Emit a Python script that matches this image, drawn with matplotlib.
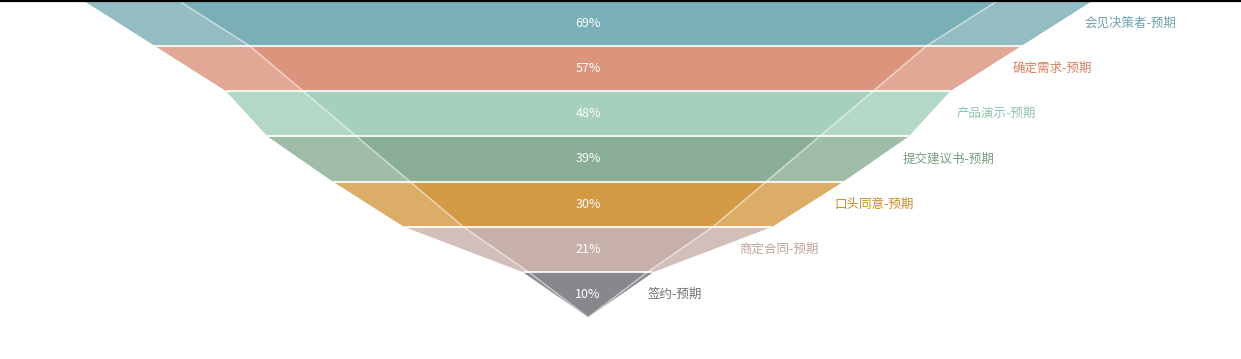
import matplotlib
matplotlib.use("Agg")
import matplotlib.pyplot as plt
from matplotlib.patches import Polygon
from matplotlib.lines import Line2D

plt.rcParams['font.family'] = ['Noto Sans CJK SC', 'DejaVu Sans']

# stage names, expected funnel (outer) and actual percentages (inner)
stages = ['会见决策者', '确定需求', '产品演示', '提交建议书', '口头同意', '商定合同', '签约']
expected = [85, 73, 61, 54, 43, 31, 11]
actual = [69, 57, 48, 39, 30, 21, 10]

outer_colors = ['#93bdc3', '#e1a995', '#b3d9c6', '#9ebca8', '#dbad67', '#d2bfba', '#88888c']
inner_colors = ['#7aafb8', '#db957c', '#a5d0bb', '#8aae95', '#d49944', '#c7b0aa', '#88888c']
label_colors = ['#6da2ab', '#d8805f', '#8cc5a8', '#769d80', '#ce8a26', '#bfa39c', '#6e6e6e']

fig = plt.figure(figsize=(12.41, 3.59), dpi=100)
ax = fig.add_axes([0, 0, 1, 1])
ax.set_xlim(-99.0, 109.9)
ax.set_ylim(7.92, -0.01)
ax.axis('off')

n = len(stages)


def bounds(vals, i):
    top = vals[i]
    bot = vals[i + 1] if i + 1 < n else 0
    return top, bot


# expected funnel
for i in range(n):
    t, b = bounds(expected, i)
    ax.add_patch(Polygon([(-t, i), (t, i), (b, i + 1), (-b, i + 1)],
                         closed=True, facecolor=outer_colors[i], edgecolor='none', zorder=1))

# actual funnel
for i in range(n):
    t, b = bounds(actual, i)
    ax.add_patch(Polygon([(-t, i), (t, i), (b, i + 1), (-b, i + 1)],
                         closed=True, facecolor=inner_colors[i], edgecolor='none', zorder=2))

# separators between rows
for i in range(1, n):
    w = expected[i]
    ax.plot([-w, w], [i, i], color='white', lw=1.5, alpha=0.85, zorder=3,
            solid_capstyle='butt')

# edges of the actual funnel
ys = list(range(n + 1))
xs = actual + [0]
ax.plot([-x for x in xs], ys, color='white', lw=1.1, alpha=0.55, zorder=4)
ax.plot(xs, ys, color='white', lw=1.1, alpha=0.55, zorder=4)

# labels
for i in range(n):
    ax.text(0, i + 0.5, f'{actual[i]}%', color='white', fontsize=9,
            ha='center', va='center', zorder=5)
    t, b = bounds(expected, i)
    ax.text((t + b) / 2 + 4.5, i + 0.5, f'{stages[i]}-预期', color=label_colors[i],
            fontsize=9, ha='left', va='center', zorder=5)

# black rule along the top edge
fig.add_artist(Line2D([0, 1], [0.997, 0.997], transform=fig.transFigure,
                      color='black', lw=1.6))

fig.savefig('out.png', dpi=100)
